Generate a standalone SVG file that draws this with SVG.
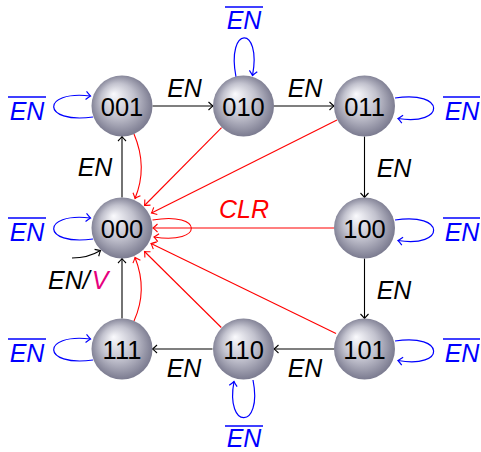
<svg xmlns="http://www.w3.org/2000/svg" width="481" height="452" viewBox="0 0 481 452">
  <style>
    .lbl { font-family: "Liberation Sans", Arial, sans-serif; font-size: 25px; font-style: italic; }
    .num { font-family: "Liberation Sans", Arial, sans-serif; font-size: 25.5px; text-anchor: middle; fill: #000; }
    .blk { stroke: #000; stroke-width: 1.1; fill: none; marker-end: url(#arrK); }
    .red { stroke: #ff0000; stroke-width: 1.1; fill: none; marker-end: url(#arrR); }
    .blu { stroke: #0000ff; stroke-width: 1.2; fill: none; marker-end: url(#arrB); }
    .bar { stroke: #0000ff; stroke-width: 1.4; }
    .nb { fill: #0000ff; text-anchor: middle; }
  </style>
  <defs>
    <radialGradient id="ball" cx="0.5" cy="0.5" r="0.55" fx="0.36" fy="0.3">
      <stop offset="0" stop-color="#fafafd"/>
      <stop offset="0.5" stop-color="#c2c2ce"/>
      <stop offset="1" stop-color="#707086"/>
    </radialGradient>
    <marker id="arrK" markerUnits="userSpaceOnUse" markerWidth="12" markerHeight="12" refX="0" refY="0" viewBox="-6 -6 12 12" orient="auto" overflow="visible">
      <path d="M -4.5,-4 Q -1.2,-0.8 0,0 Q -1.2,0.8 -4.5,4" fill="none" stroke="#000" stroke-width="1.1"/>
    </marker>
    <marker id="arrR" markerUnits="userSpaceOnUse" markerWidth="12" markerHeight="12" refX="0" refY="0" viewBox="-6 -6 12 12" orient="auto" overflow="visible">
      <path d="M -4.5,-4 Q -1.2,-0.8 0,0 Q -1.2,0.8 -4.5,4" fill="none" stroke="#ff0000" stroke-width="1.1"/>
    </marker>
    <marker id="arrB" markerUnits="userSpaceOnUse" markerWidth="12" markerHeight="12" refX="0" refY="0" viewBox="-6 -6 12 12" orient="auto" overflow="visible">
      <path d="M -4.5,-4 Q -1.2,-0.8 0,0 Q -1.2,0.8 -4.5,4" fill="none" stroke="#0000ff" stroke-width="1.2"/>
    </marker>
  </defs>

  <g id="connectors">
    <!-- counting transitions -->
    <line class="blk" x1="152.5" y1="106" x2="213" y2="106"/>
    <line class="blk" x1="273.5" y1="106" x2="334" y2="106"/>
    <line class="blk" x1="364.5" y1="136.5" x2="364.5" y2="197.5"/>
    <line class="blk" x1="364.5" y1="258.5" x2="364.5" y2="318.5"/>
    <line class="blk" x1="334" y1="349" x2="274" y2="349"/>
    <line class="blk" x1="212.5" y1="349" x2="152.5" y2="349"/>
    <line class="blk" x1="122" y1="318.5" x2="122" y2="258.5"/>
    <line class="blk" x1="122" y1="197.5" x2="122" y2="136.5"/>
    <!-- initial state -->
    <path class="blk" d="M 72,258 Q 88,258 100.5,250.5"/>

    <!-- clear transitions -->
    <path class="red" d="M 134,134 Q 148,167 135,198.5"/>
    <line class="red" x1="221.6" y1="127.7" x2="144.5" y2="205.5"/>
    <line class="red" x1="337" y1="120" x2="151.5" y2="213"/>
    <line class="red" x1="334" y1="228" x2="153" y2="228"/>
    <path class="red" d="M 152.5,220 C 204,211 204,245 154,237"/>
    <line class="red" x1="336" y1="333.5" x2="151" y2="243.5"/>
    <line class="red" x1="221.3" y1="327.5" x2="144.5" y2="251.5"/>
    <path class="red" d="M 134,321 Q 148,290 135,257.5"/>

    <!-- hold loops -->
    <path class="blu" d="M 93,117 C 41,124 41,90 90.5,96"/>
    <path class="blu" d="M 93,239 C 41,246 41,212 90.5,218"/>
    <path class="blu" d="M 93,360 C 41,367 41,333 90.5,339"/>
    <path class="blu" d="M 236,77 C 226,25 262,25 252.5,75.5"/>
    <path class="blu" d="M 395,98 C 446,90 446,126 398,118.5"/>
    <path class="blu" d="M 395,220 C 446,212 446,248 398,240.5"/>
    <path class="blu" d="M 395,341 C 446,333 446,369 398,360.5"/>
    <path class="blu" d="M 253,380 C 263,430 225,430 234,381.5"/>
  </g>

  <!-- transition labels -->
  <g id="labels">
    <text class="lbl" x="184.5" y="97" text-anchor="middle">EN</text>
    <text class="lbl" x="305" y="97" text-anchor="middle">EN</text>
    <text class="lbl" x="394" y="177" text-anchor="middle">EN</text>
    <text class="lbl" x="394" y="299" text-anchor="middle">EN</text>
    <text class="lbl" x="305" y="377" text-anchor="middle">EN</text>
    <text class="lbl" x="184" y="377" text-anchor="middle">EN</text>
    <text class="lbl" x="95" y="176" text-anchor="middle">EN</text>
    <text class="lbl" x="48" y="289">EN/<tspan dx="2" fill="#e6007e">V</tspan></text>
    <text class="lbl" x="244" y="218" text-anchor="middle" fill="#ff0000">CLR</text>

    <text class="lbl nb" x="27" y="120">EN</text>
    <line class="bar" x1="8" y1="97" x2="46" y2="97"/>
    <text class="lbl nb" x="27" y="241">EN</text>
    <line class="bar" x1="8" y1="218" x2="46" y2="218"/>
    <text class="lbl nb" x="27" y="362">EN</text>
    <line class="bar" x1="8" y1="339" x2="46" y2="339"/>
    <text class="lbl nb" x="244" y="29">EN</text>
    <line class="bar" x1="225" y1="7" x2="263" y2="7"/>
    <text class="lbl nb" x="462" y="120">EN</text>
    <line class="bar" x1="443" y1="97" x2="480" y2="97"/>
    <text class="lbl nb" x="462" y="241">EN</text>
    <line class="bar" x1="443" y1="218" x2="480" y2="218"/>
    <text class="lbl nb" x="462" y="362">EN</text>
    <line class="bar" x1="443" y1="339" x2="480" y2="339"/>
    <text class="lbl nb" x="244" y="447">EN</text>
    <line class="bar" x1="225" y1="426" x2="263" y2="426"/>
  </g>

  <g id="s001"><circle cx="122" cy="106" r="30.5" fill="url(#ball)"/><text class="num" x="122" y="116">001</text></g>
  <g id="s010"><circle cx="243.5" cy="106" r="30.5" fill="url(#ball)"/><text class="num" x="243.5" y="116">010</text></g>
  <g id="s011"><circle cx="364.5" cy="106" r="30.5" fill="url(#ball)"/><text class="num" x="364.5" y="116">011</text></g>
  <g id="s000"><circle cx="122" cy="228" r="30.5" fill="url(#ball)"/><text class="num" x="122" y="238">000</text></g>
  <g id="s100"><circle cx="364.5" cy="228" r="30.5" fill="url(#ball)"/><text class="num" x="364.5" y="238">100</text></g>
  <g id="s111"><circle cx="122" cy="349" r="30.5" fill="url(#ball)"/><text class="num" x="122" y="359">111</text></g>
  <g id="s110"><circle cx="243.5" cy="349" r="30.5" fill="url(#ball)"/><text class="num" x="243.5" y="359">110</text></g>
  <g id="s101"><circle cx="364.5" cy="349" r="30.5" fill="url(#ball)"/><text class="num" x="364.5" y="359">101</text></g>
</svg>
